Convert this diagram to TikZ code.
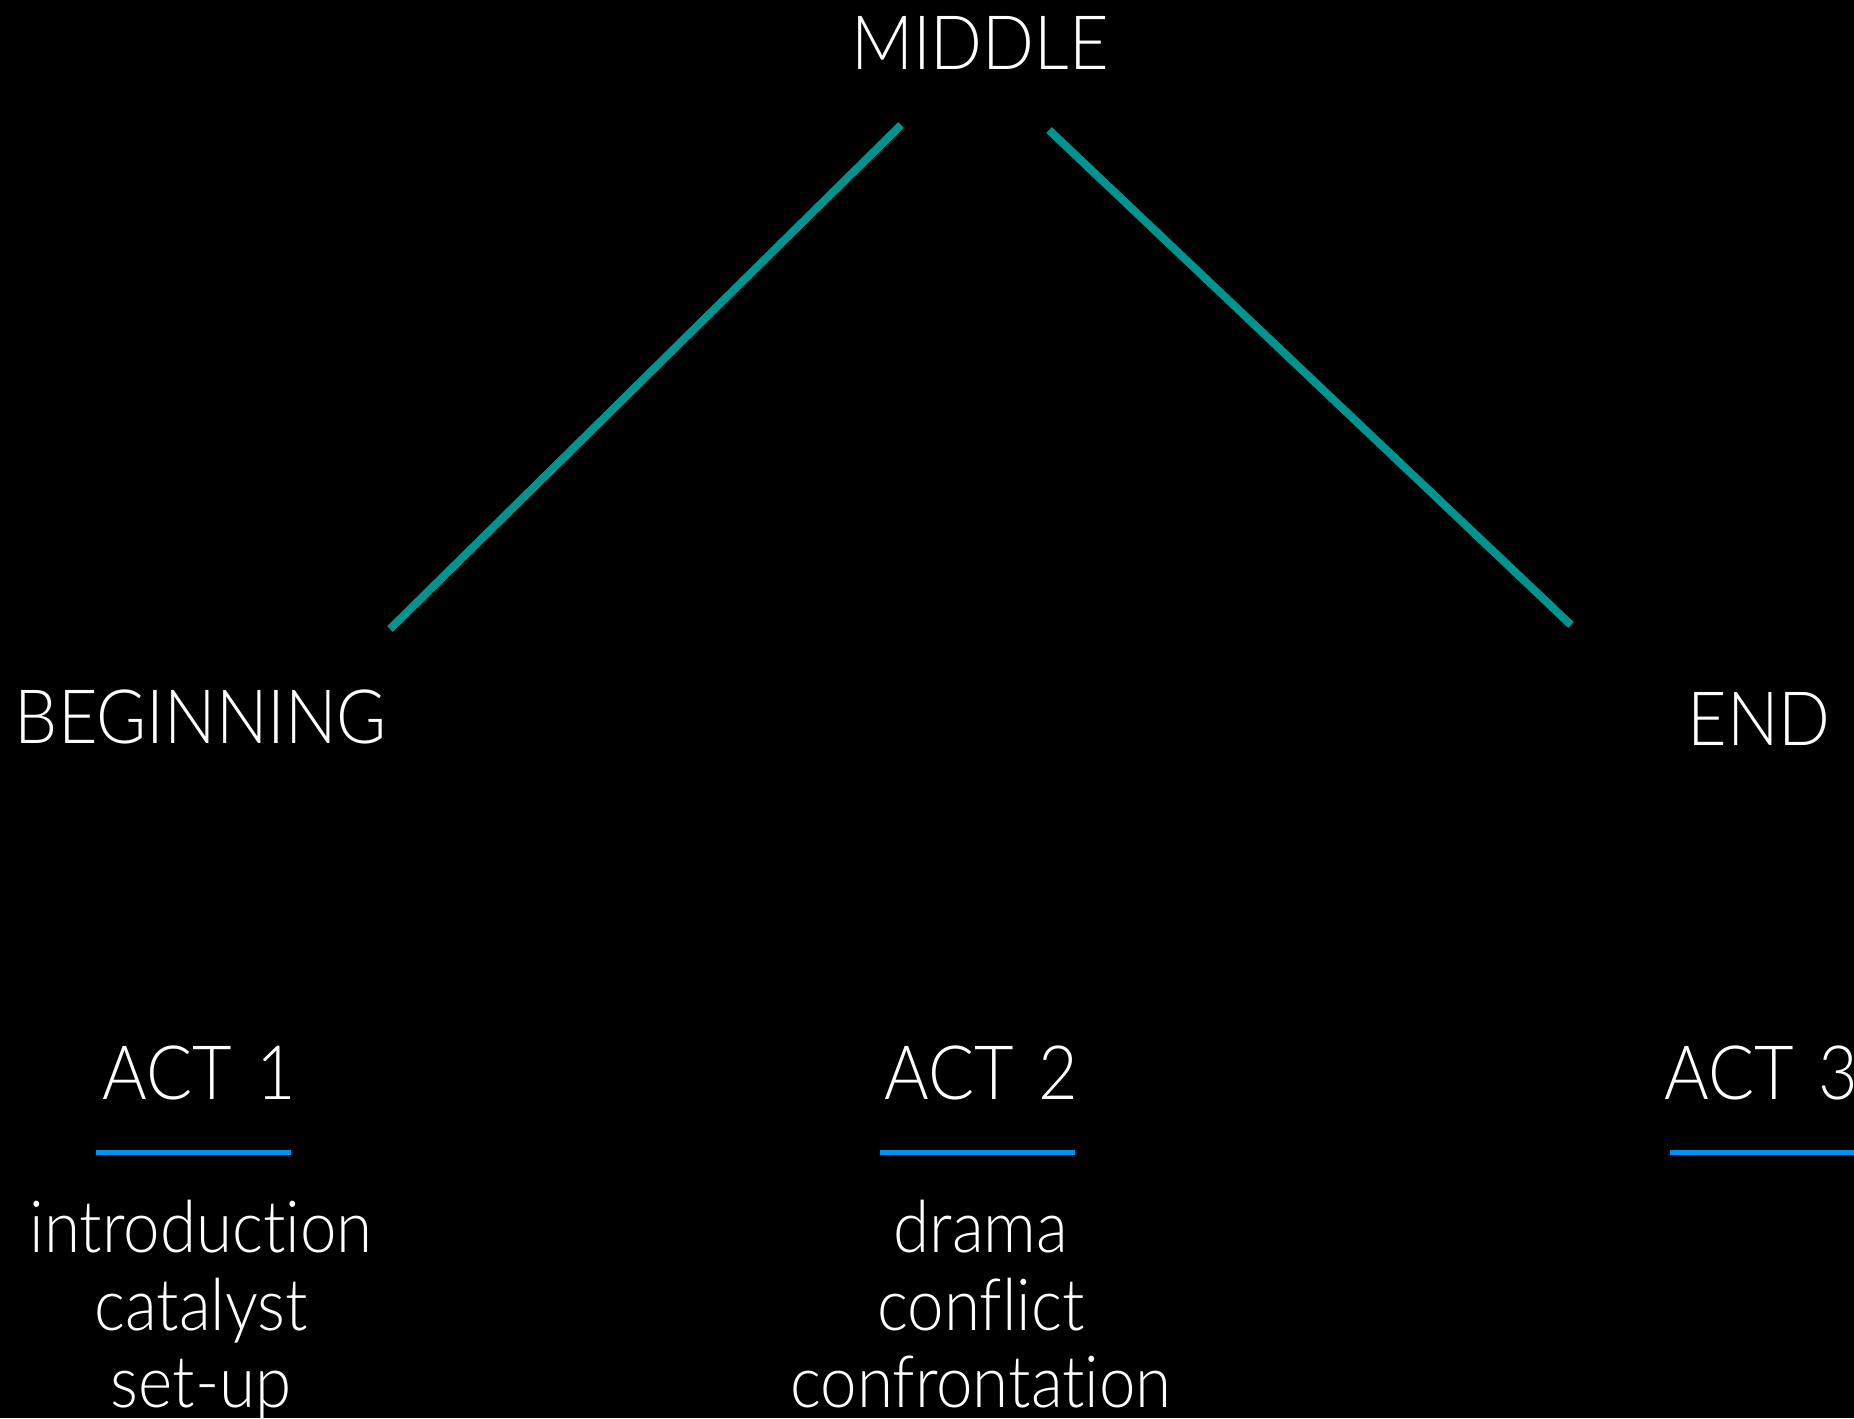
\documentclass[tikz,border=0pt]{standalone}
\usepackage{fontspec}
\setmainfont{Lato Light}[FakeStretch=0.91,Ligatures=NoCommon]
\definecolor{tealline}{RGB}{0,148,144}
\definecolor{blueline}{RGB}{0,145,240}
\newcommand{\actgap}{\ \hspace{6pt}}
\begin{document}
\begin{tikzpicture}[x=1pt,y=-1pt,
  head/.style={text=white,anchor=base,inner sep=0pt,font=\fontsize{75}{75}\selectfont},
  word/.style={text=white,anchor=base,inner sep=0pt,font=\fontsize{72}{72}\selectfont},
  branch/.style={draw=tealline,line width=8pt},
  rule/.style={draw=blueline,line width=5pt}]
\fill[black] (0,0) rectangle (1854,1418);
\clip (0,0) rectangle (1854,1418);
% structure labels
\node[head] (middle) at (980,70) {MIDDLE};
\node[head] (beginning) at (201,743) {BEGINNING};
\node[head] (end) at (1759,745) {END};
% branches of the arc
\coordinate (mL) at (901,125);
\coordinate (bT) at (390,629);
\coordinate (mR) at (1049,130);
\coordinate (eT) at (1571,625);
\draw[branch] (mL) -- (bT);
\draw[branch] (mR) -- (eT);
% acts
\node[head] (act1) at (199,1099) {ACT\actgap 1};
\node[head] (act2) at (981,1099) {ACT\actgap 2};
\node[head] (act3) at (1761,1099) {ACT\actgap 3};
\coordinate (r1a) at (96,1152);  \coordinate (r1b) at (291,1152);
\coordinate (r2a) at (880,1152); \coordinate (r2b) at (1075,1152);
\coordinate (r3a) at (1670,1152); \coordinate (r3b) at (1865,1152);
\draw[rule] (r1a) -- (r1b);
\draw[rule] (r2a) -- (r2b);
\draw[rule] (r3a) -- (r3b);
% act contents
\node[word] (intro) at (201,1252) {introduction};
\node[word] (cat) at (201,1330) {catalyst};
\node[word] (setup) at (201,1407) {set-up};
\node[word] (drama) at (981,1252) {drama};
\node[word] (conflict) at (981,1330) {conflict};
\node[word] (confront) at (981,1407) {confrontation};
\end{tikzpicture}
\end{document}
